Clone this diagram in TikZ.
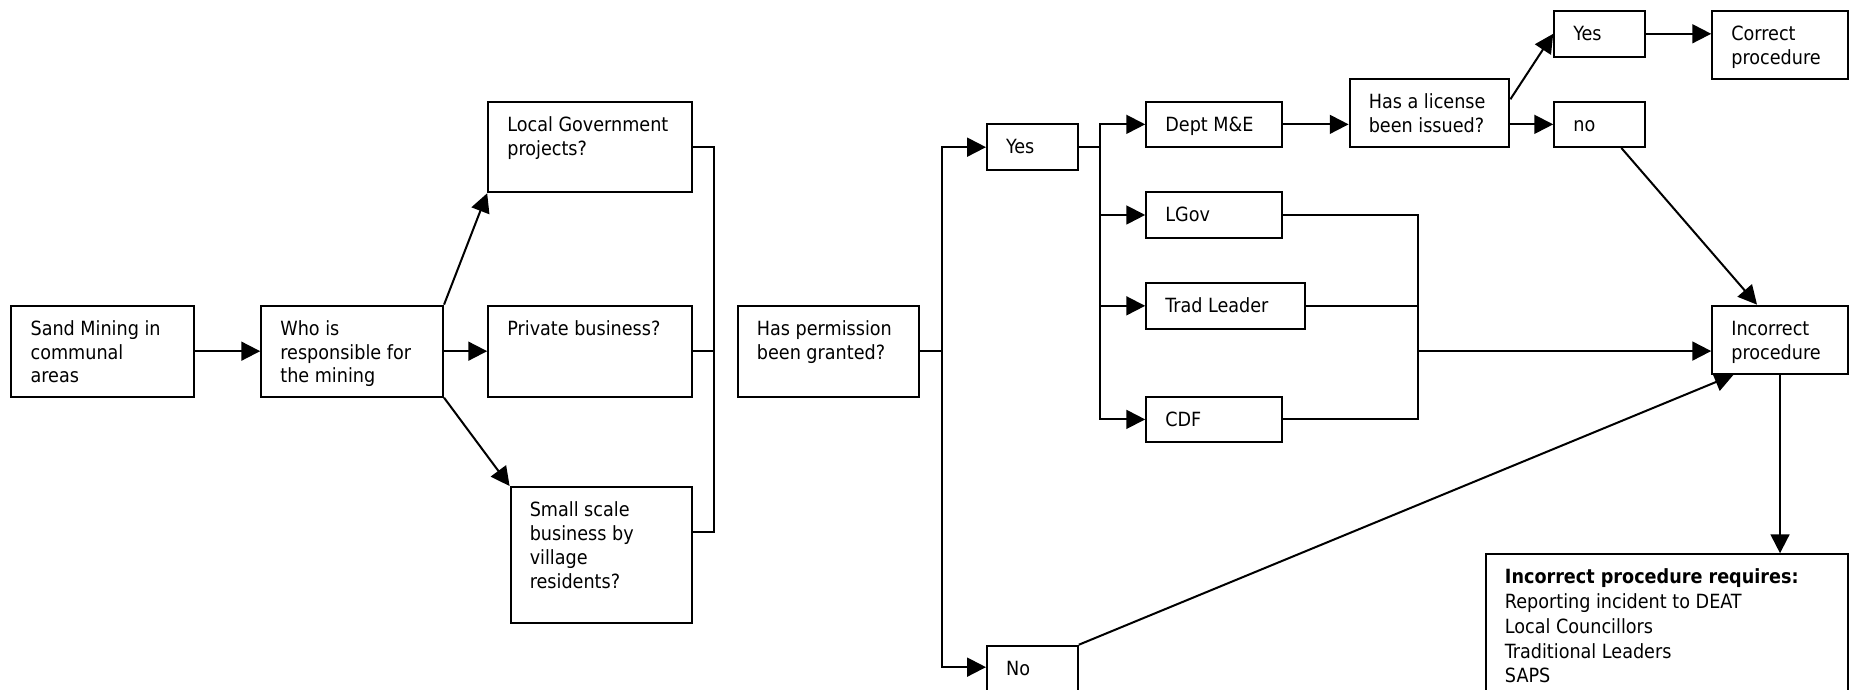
\documentclass[tikz,border=0pt]{standalone}
\usepackage{fontspec}
\setmainfont{DejaVu Sans Condensed}
\usetikzlibrary{arrows.meta,fit}
\tikzset{
  box/.style={draw, line width=0.85pt, inner sep=0pt},
  txt/.style={anchor=base west, inner sep=0pt, font={\fontsize{8.3pt}{10.1pt}\selectfont}},
  link/.style={line width=0.85pt},
  arr/.style={link, -{Triangle[length=8pt,width=8pt]}},
}
% a framed box given by two corners, with its text set from the top left
\newcommand\flowbox[6]{%
  \node[box, fit={(#2,#3) (#4,#5)}] (#1) {};
  \node[txt] (#1-t) at ([shift={(8.35pt,-13pt)}]#1.north west) {\parbox[t]{6cm}{\raggedright #6}};
}
\begin{document}
\begin{tikzpicture}[x=0.5pt,y=-0.5pt]
\useasboundingbox (0,0) rectangle (1568,585);

% boxes
\flowbox{sand}{9.7}{259.2}{164.3}{336.4}{Sand Mining in\\communal\\areas}
\node[box, fit={(221.5,259.2) (375.7,336.4)}] (who) {};
\begin{scope}
  \clip (who.north west) rectangle ([yshift=4.8pt]who.south east);
  \node[txt] (who-t) at ([shift={(8.35pt,-13pt)}]who.north west) {\parbox[t]{6cm}{\raggedright Who is\\responsible for\\the mining}};
\end{scope}
\flowbox{lgp}{414}{86.2}{587.2}{163}{Local Government\\projects?}
\flowbox{priv}{414}{259.2}{587.2}{336.4}{Private business?}
\flowbox{small}{433}{413}{587.2}{528.5}{Small scale\\business by\\village\\residents?}
\flowbox{perm}{625.6}{259.2}{779.3}{336.4}{Has permission\\been granted?}
\flowbox{yes1}{837}{105.4}{914}{144.2}{Yes}
\flowbox{no1}{837}{547.6}{914}{605}{No}
\flowbox{dept}{972}{86.2}{1087}{124.7}{Dept M\&E}
\flowbox{lgov}{972}{163}{1087}{201.6}{LGov}
\flowbox{trad}{972}{240}{1106.8}{278.7}{Trad Leader}
\flowbox{cdf}{972}{336.3}{1087}{375}{CDF}
\flowbox{lic}{1144.5}{67}{1280}{124.7}{Has a license\\been issued?}
\flowbox{yes2}{1318}{9.3}{1395}{48}{Yes}
\flowbox{no2}{1318}{86.2}{1395}{124.7}{no}
\flowbox{corr}{1452}{9.3}{1567}{67.3}{Correct\\procedure}
\flowbox{inc}{1452}{259.2}{1567}{317}{Incorrect\\procedure}
\flowbox{req}{1260}{470}{1567}{605}{\setlength\baselineskip{10.5pt}\textbf{Incorrect procedure requires:}\\Reporting incident to DEAT\\Local Councillors\\Traditional Leaders\\SAPS}

% who is responsible
\draw[arr] (sand.east) -- (who.west);
\draw[arr] (who.north east) -- (lgp.south west);
\draw[arr] (who.east) -- (priv.west);
\draw[arr] (who.south east) -- (small.north west);
\coordinate (bus1) at (605.5,0);
\coordinate (smallout) at ([yshift=-19.35pt]small.north east);
\draw[link] (lgp.east) -| (bus1 |- smallout) -- (smallout);
\draw[link] (priv.east) -- (priv.east -| bus1);

% permission granted or not
\coordinate (bus2) at (798.6,0);
\coordinate (no1in) at ([yshift=-9.5pt]no1.north west);
\draw[link] (perm.east) -- (perm.east -| bus2);
\draw[arr] (bus2 |- no1in) |- (yes1.west);
\draw[arr] (bus2 |- yes1.west) |- (no1in);

% granted by whom
\coordinate (bus3) at (932.9,0);
\draw[link] (yes1.east) -- (yes1.east -| bus3);
\draw[arr] (bus3 |- cdf.west) |- (dept.west);
\draw[arr] (bus3 |- dept.west) |- (cdf.west);
\draw[arr] (lgov.west -| bus3) -- (lgov.west);
\draw[arr] (trad.west -| bus3) -- (trad.west);

% licence check
\draw[arr] (dept.east) -- (dept.east -| lic.west);
\draw[arr] ([yshift=-9pt]lic.north east) -- (yes2.west);
\draw[arr] (no2.west -| lic.east) -- (no2.west);
\draw[arr] (yes2.east) -- (yes2.east -| corr.west);
\draw[arr] ([xshift=9.25pt]no2.south) -- ([xshift=-9.75pt]inc.north);

% other authorities lead to incorrect procedure
\coordinate (bus4) at (1202.4,0);
\coordinate (incin) at ([yshift=-4.8pt]inc.west);
\draw[link] (lgov.east) -| (bus4 |- cdf.east) -- (cdf.east);
\draw[link] (trad.east) -- (trad.east -| bus4);
\draw[arr] (incin -| bus4) -- (incin);
\draw[arr] (no1.north east) -- ([xshift=-19.75pt]inc.south);
\draw[arr] (inc.south) -- (inc.south |- req.north);
\end{tikzpicture}
\end{document}
